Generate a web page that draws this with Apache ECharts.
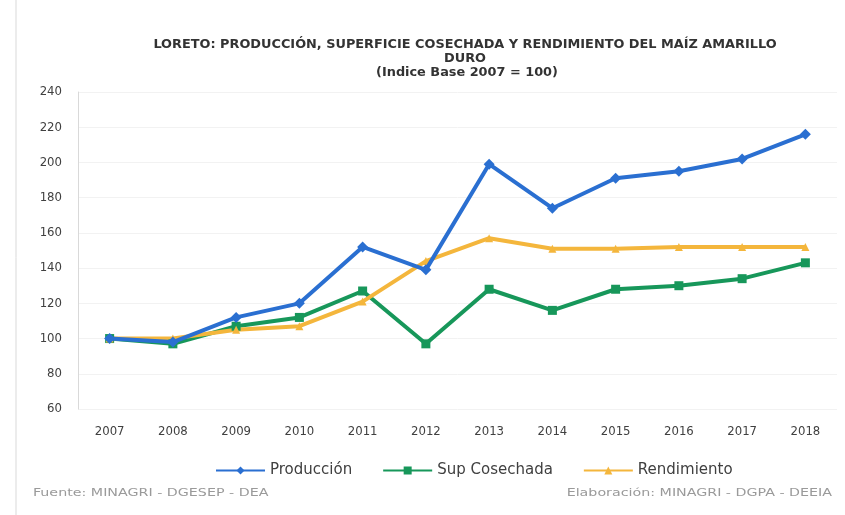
<!DOCTYPE html>
<html>
<head>
<meta charset="utf-8">
<script src="https://cdn.jsdelivr.net/npm/echarts@6/dist/echarts.min.js"></script>
<style>
  html,body{margin:0;padding:0;background:#fff;}
  #main{width:845px;height:515px;}
</style>
</head>
<body>
<div id="main"></div>
<script>
const years = ['2007','2008','2009','2010','2011','2012','2013','2014','2015','2016','2017','2018'];
const produccion = [100, 98, 112, 120, 152, 139, 199, 174, 191, 195, 202, 216];
const supCosechada = [100, 97, 107, 112, 127, 97, 128, 116, 128, 130, 134, 143];
const rendimiento = [100, 100, 105, 107, 121, 144, 157, 151, 151, 152, 152, 152];
const yTicks = [60, 80, 100, 120, 140, 160, 180, 200, 220, 240];

const font = '"DejaVu Sans Condensed","DejaVu Sans",sans-serif';
let myChart = echarts.init(document.getElementById('main'));

function line(name, data, color, symbol, size){
  return {
    name: name,
    type: 'line',
    data: data,
    symbol: symbol,
    symbolSize: size,
    lineStyle: {color: color, width: 4},
    itemStyle: {color: color},
    z: name == 'Producción' ? 4 : 3
  };
}

// texto estirado en horizontal, como en la imagen original
function stretched(x, y, text, fontStr, color, align, sx){
  return {
    type: 'text', x: x, y: y, scaleX: sx,
    style: {x: 0, y: 0, text: text, textAlign: align, font: fontStr, fill: color}
  };
}

let option = {
  backgroundColor: '#fff',
  textStyle: {fontFamily: font},
  graphic: [
    {type: 'line', shape: {x1: 16, y1: 0, x2: 16, y2: 515}, style: {stroke: '#d9d9d9', lineWidth: 1}},
    stretched(465, 38, 'LORETO: PRODUCCIÓN, SUPERFICIE COSECHADA Y RENDIMIENTO DEL MAÍZ AMARILLO', 'bold 13px ' + font, '#333', 'center', 1.1),
    stretched(465, 52, 'DURO', 'bold 13px ' + font, '#333', 'center', 1.1),
    stretched(467, 66, '(Indice Base 2007 = 100)', 'bold 13px ' + font, '#333', 'center', 1.1),
    stretched(33, 488, 'Fuente: MINAGRI - DGESEP - DEA', '11px ' + font, '#9a9a9a', 'left', 1.44),
    stretched(832, 488, 'Elaboración: MINAGRI - DGPA - DEEIA', '11px ' + font, '#9a9a9a', 'right', 1.44)
  ],
  legend: {
    top: 458,
    left: 210,
    itemGap: 30,
    itemWidth: 49,
    itemHeight: 10,
    textStyle: {fontSize: 15, color: '#404040', fontFamily: '"DejaVu Sans",sans-serif'},
    data: ['Producción', 'Sup Cosechada', 'Rendimiento']
  },
  grid: {left: 78, right: 8, top: 92, bottom: 106},
  xAxis: {
    type: 'category',
    data: years,
    boundaryGap: true,
    axisLine: {show: false},
    axisTick: {show: false},
    axisLabel: {color: '#404040', fontSize: 13, margin: 16}
  },
  yAxis: {
    type: 'value',
    min: yTicks[0],
    max: yTicks[yTicks.length - 1],
    interval: 20,
    axisLine: {show: true, lineStyle: {color: '#d9d9d9'}},
    axisLabel: {color: '#404040', fontSize: 13, margin: 16},
    splitLine: {lineStyle: {color: '#f2f2f2'}}
  },
  series: [
    line('Producción', produccion, '#2a6fd1', 'diamond', 11),
    line('Sup Cosechada', supCosechada, '#17975a', 'rect', 9),
    line('Rendimiento', rendimiento, '#f4b63c', 'triangle', 8)
  ]
};
myChart.setOption(option);
</script>
</body>
</html>
